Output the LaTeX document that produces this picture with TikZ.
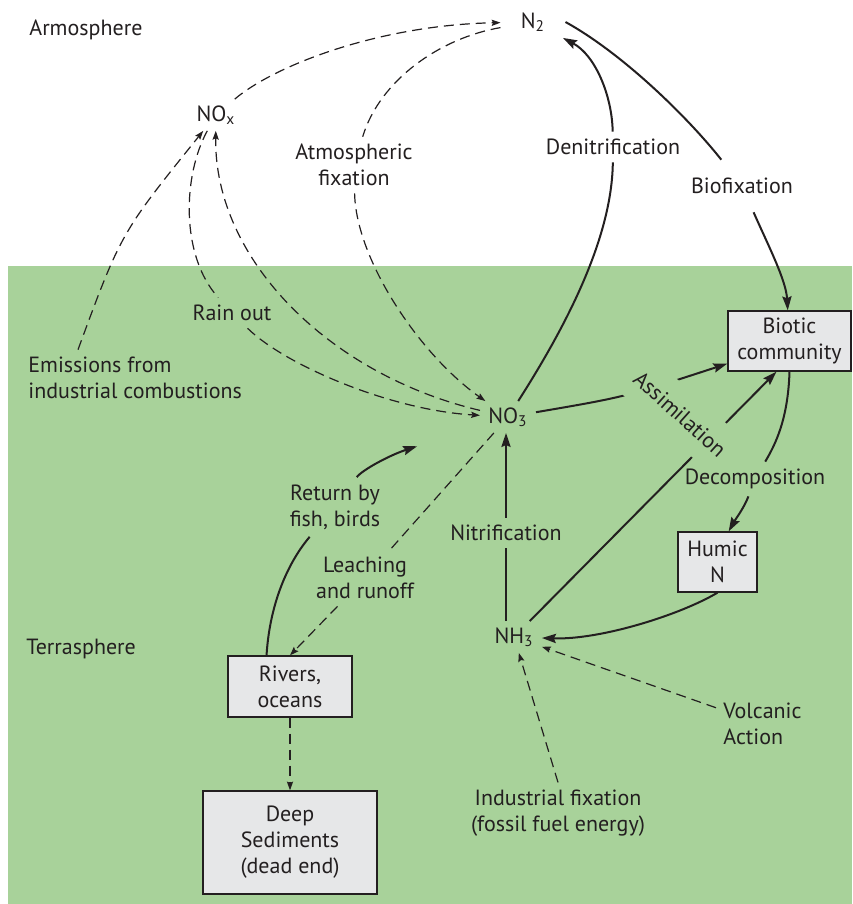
\documentclass[tikz,border=0pt]{standalone}
\usepackage{fontspec}
\setmainfont{PT Sans}
\usetikzlibrary{arrows.meta}
\definecolor{bggreen}{RGB}{168,210,154}
\definecolor{boxgray}{RGB}{230,231,232}
\definecolor{ink}{RGB}{35,31,32}
\begin{document}
\begin{tikzpicture}[x=0.5pt,y=-0.5pt,
  every node/.style={text=ink, font=\fontsize{11}{13}\selectfont},
  chem/.style={inner xsep=4pt, inner ysep=3pt},
  lbl/.style={inner sep=3.5pt, align=center},
  box/.style={draw=ink, fill=boxgray, line width=0.65pt, align=center, inner sep=0pt},
  sl/.style={draw=ink, line width=1pt},
  dl/.style={draw=ink, line width=0.6pt, dash pattern=on 5pt off 3pt},
  sarr/.style={-{Stealth[length=7pt,width=4.6pt,inset=1pt]}},
  darr/.style={-{Stealth[length=4.4pt,width=3.1pt,inset=0.7pt]}}]
\fill[white] (0,0) rectangle (852,904);
\useasboundingbox (0,0) rectangle (852,904);
\fill[bggreen] (8,266) rectangle (852,904);
% nodes
\node[lbl, anchor=west] (armos) at (22,30) {Armosphere};
\node[chem, inner xsep=10pt] (n2) at (533,22) {N\textsubscript{2}};
\node[chem] (nox) at (216,115) {NO\textsubscript{x}};
\node[lbl] (atmfix) at (354,165) {Atmospheric\\fixation};
\node[lbl] (denit) at (613,147) {Denitrification};
\node[lbl, inner sep=9pt] (biofix) at (742,186) {Biofixation};
\node[box, minimum width=61.5pt, minimum height=30pt] (biotic) at (789.5,341) {Biotic\\community};
\node[lbl] (rainout) at (232,313) {Rain out};
\node[lbl, anchor=west, align=left] (emis) at (21,378) {Emissions from\\industrial combustions};
\node[chem] (no3) at (508,417) {NO\textsubscript{3}};
\node[lbl] (decomp) at (755,479) {Decomposition};
\node[box, minimum width=39.5pt, minimum height=30pt] (humic) at (717.5,562) {Humic\\N};
\node[lbl] (nitrif) at (506,533) {Nitrification};
\node[chem] (nh3) at (514,637) {NH\textsubscript{3}};
\node[lbl, anchor=west, align=left] (volc) at (716,724) {Volcanic\\Action};
\node[lbl] (indfix) at (558,813) {Industrial fixation\\(fossil fuel energy)};
\node[lbl] (retfish) at (335,507) {Return by\\fish, birds};
\node[lbl] (leach) at (365,578) {Leaching\\and runoff};
\node[lbl, anchor=west] (terra) at (19,649) {Terrasphere};
\node[box, minimum width=62pt, minimum height=30.5pt] (rivers) at (290,686.5) {Rivers,\\oceans};
\node[box, minimum width=87pt, minimum height=51.5pt] (deep) at (290,842.5) {Deep\\Sediments\\(dead end)};
\coordinate (emisT) at ([xshift=28.5pt]emis.north west);
% connectors
\draw[dl,darr] (nox) .. controls (275,65) and (380,25) .. (n2);
\draw[dl,darr] (n2) .. controls (440,38) and (380,80) .. (atmfix) .. controls (356,260) and (420,355) .. (no3);
\draw[dl,darr] (nox) .. controls (183,175) and (180,255) .. (rainout) .. controls (285,365) and (390,410) .. (no3);
\draw[dl,darr] (no3) .. controls (330,375) and (214,260) .. (nox);
\draw[dl,darr] (emisT) .. controls (121,233) .. (nox);
\draw[sl,sarr] (no3) .. controls (570,320) and (612,235) .. (denit) .. controls (612,95) and (595,55) .. (n2);
\draw[sl,sarr] (n2.east) .. controls (625,55) and (690,120) .. (biofix) .. controls (768,245) and (786,280) .. (biotic);
\draw[sl,sarr] (no3) .. controls (625,397) .. (biotic.200);
\draw[sl,sarr] (nh3) -- (biotic.247);
\node[lbl, rotate=-42, fill=bggreen, inner xsep=3pt, inner ysep=8pt] (assim) at (680,414) {Assimilation};
\draw[sl,sarr] (biotic.south) .. controls (788,420) and (775,445) .. (decomp) .. controls (744,508) and (735,520) .. (humic.70);
\draw[sl,sarr] (humic.south) .. controls (680,615) and (600,640) .. (nh3);
\draw[sl,sarr] (nitrif |- nh3.north) -- (nitrif) -- (nitrif |- no3.south);
\draw[dl,darr] (volc) -- (nh3);
\draw[dl,darr] (indfix.north) -- (nh3);
\draw[dl,darr] (no3) -- (leach) -- (rivers.north);
\draw[sl,sarr,shorten >=33pt] (rivers.127) .. controls (270,600) and (290,560) .. (retfish) .. controls (362,470) and (390,455) .. (no3);
\draw[dl,darr] (rivers) -- (deep);
\end{tikzpicture}
\end{document}
